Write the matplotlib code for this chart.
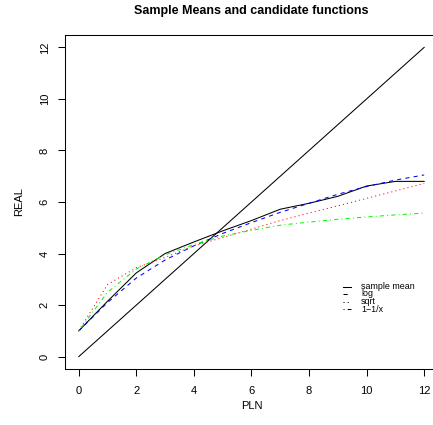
import numpy as np
import matplotlib.pyplot as plt

plt.rcParams['font.family'] = ['Liberation Sans', 'DejaVu Sans']

# === data ===
pln = [0, 1, 2, 3, 4, 5, 6, 7, 8, 9, 10, 11, 12]
sample_mean = [1.0, 2.15, 3.25, 4.0, 4.45, 4.88, 5.28, 5.72, 5.95, 6.22, 6.62, 6.8, 6.8]
fit_log = [1.0, 2.1, 3.05, 3.75, 4.3, 4.78, 5.2, 5.6, 5.95, 6.3, 6.6, 6.85, 7.05]
fit_sqrt = [1.0, 2.8, 3.45, 3.85, 4.3, 4.62, 4.95, 5.28, 5.57, 5.85, 6.14, 6.43, 6.72]
fit_inv = [1.0, 2.5, 3.4, 3.95, 4.35, 4.68, 4.9, 5.1, 5.22, 5.33, 5.42, 5.5, 5.57]
identity = [0, 12]

ticks = [0, 2, 4, 6, 8, 10, 12]
legend_labels = ['sample mean', 'log', 'sqrt', '1\u22121/x']

fig = plt.figure(figsize=(4.33, 4.25), dpi=100)
ax = fig.add_axes([0.150, 0.1318, 0.8615, 0.7858])

ax.plot(identity, identity, color='black', lw=0.75)
ax.plot(pln, sample_mean, color='black', lw=0.75)
ax.plot(pln, fit_log, color='blue', lw=0.75, ls=(0, (4, 4)))
ax.plot(pln, fit_sqrt, color='red', lw=0.75, ls=(0, (1, 3)))
ax.plot(pln, fit_inv, color='#00FF00', lw=0.75, ls=(0, (1, 3, 4, 3)))

ax.set_xlim(-0.48, 12.48)
ax.set_ylim(-0.48, 12.48)
ax.set_xticks(ticks)
ax.set_yticks(ticks)
ax.tick_params(direction='out', length=5, width=0.75, labelsize=8, pad=7)
ax.tick_params(axis='y', pad=6)
for lab in ax.get_yticklabels():
    lab.set_rotation(90)
    lab.set_va('center')
for s in ax.spines.values():
    s.set_linewidth(0.75)

ax.set_xlabel('PLN', fontsize=8, labelpad=4)
ax.set_ylabel('REAL', fontsize=8, labelpad=11)
fig.text(0.5805, 0.974, 'Sample Means and candidate functions', fontsize=9,
         fontweight='bold', ha='center', va='center')

# legend drawn by hand (R style, no box, rows packed tightly)
styles = ['-', (0, (4, 4)), (0, (1, 3)), (0, (1, 3, 4, 3))]
rows = [0.2464, 0.2246, 0.2015, 0.1787]
for lab, st, yy in zip(legend_labels, styles, rows):
    ax.plot([0.7445, 0.766], [yy, yy], transform=ax.transAxes, color='black', lw=0.75, ls=st)
    ax.text(0.7936, yy, lab, transform=ax.transAxes, fontsize=6.4, va='center', ha='left')

fig.savefig('out.png', dpi=100)
